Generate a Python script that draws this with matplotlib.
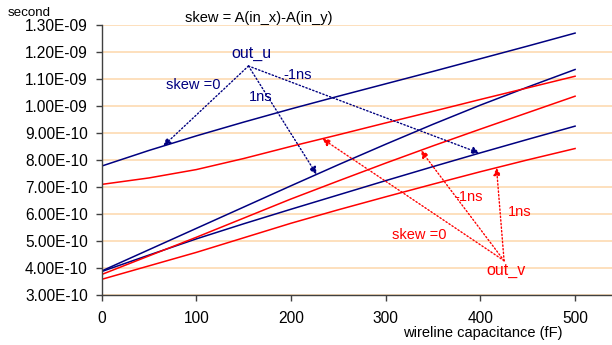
import numpy as np
import matplotlib
matplotlib.use("Agg")
import matplotlib.pyplot as plt
from matplotlib.ticker import FuncFormatter, MultipleLocator

plt.rcParams['font.family'] = ['Liberation Sans', 'DejaVu Sans']

# wireline capacitance (fF)
cap = [0, 50, 100, 150, 200, 250, 300, 350, 400, 450, 500]

# delay (s), out_u (navy) and out_v (red) for the three skew values
u_skew0 = [7.77e-10, 8.35e-10, 8.89e-10, 9.40e-10, 9.89e-10, 1.036e-09, 1.082e-09, 1.128e-09, 1.175e-09, 1.222e-09, 1.270e-09]
u_p1ns = [3.88e-10, 4.67e-10, 5.46e-10, 6.25e-10, 7.04e-10, 7.82e-10, 8.58e-10, 9.32e-10, 1.003e-09, 1.070e-09, 1.135e-09]
u_m1ns = [3.86e-10, 4.47e-10, 5.07e-10, 5.63e-10, 6.17e-10, 6.70e-10, 7.23e-10, 7.75e-10, 8.26e-10, 8.76e-10, 9.25e-10]
v_skew0 = [7.09e-10, 7.33e-10, 7.64e-10, 8.05e-10, 8.50e-10, 8.93e-10, 9.37e-10, 9.80e-10, 1.024e-09, 1.067e-09, 1.110e-09]
v_m1ns = [3.75e-10, 4.44e-10, 5.13e-10, 5.84e-10, 6.55e-10, 7.22e-10, 7.88e-10, 8.52e-10, 9.14e-10, 9.75e-10, 1.036e-09]
v_p1ns = [3.57e-10, 4.07e-10, 4.57e-10, 5.11e-10, 5.65e-10, 6.15e-10, 6.63e-10, 7.10e-10, 7.56e-10, 8.00e-10, 8.42e-10]

NAVY = "#000080"
RED = "#FF0000"
GRID = "#FDDDB8"


def arrow(ax, xs, ys, x_tip, start, color):
    "dotted arrow from a label point to a curve at x_tip"
    y_tip = np.interp(x_tip, xs, ys)
    ax.annotate("", xy=(x_tip, y_tip), xytext=start,
                arrowprops=dict(arrowstyle="-|>", color=color, lw=1.0,
                                linestyle=(0, (1, 1.6)), mutation_scale=11,
                                shrinkA=0, shrinkB=0))


fig = plt.figure(figsize=(6.12, 3.45), dpi=100)
ax = fig.add_axes([0.1662, 0.1458, 0.8338, 0.7817])

for ys in (u_skew0, u_p1ns, u_m1ns):
    ax.plot(cap, ys, color=NAVY, lw=1.1)
for ys in (v_skew0, v_m1ns, v_p1ns):
    ax.plot(cap, ys, color=RED, lw=1.1)

ax.set_xlim(0, 539)
ax.set_ylim(3e-10, 1.3e-9)
ax.xaxis.set_major_locator(MultipleLocator(100))
ax.yaxis.set_major_locator(MultipleLocator(1e-10))
ax.yaxis.set_major_formatter(FuncFormatter(lambda v, p: f"{v:.2E}"))
ax.yaxis.get_offset_text().set_visible(False)
ax.grid(axis="y", color=GRID, lw=1.3)
ax.set_axisbelow(True)
for s in ("top", "right"):
    ax.spines[s].set_visible(False)
for s in ("left", "bottom"):
    ax.spines[s].set_color("#404040")
    ax.spines[s].set_linewidth(1.0)
ax.tick_params(axis="y", direction="out", length=4, width=1, color="#404040",
               pad=6, labelsize=11.2)
ax.tick_params(axis="x", direction="out", length=4, width=1, color="#404040",
               pad=8, labelsize=11.2)

ax.set_xlabel("wireline capacitance (fF)", fontsize=10.5, va="center")
ax.xaxis.set_label_coords(0.746, -0.142)
fig.text(0.013, 0.955, "second", fontsize=9.6, ha="left", va="baseline")
ax.text(166, 1.326e-9, "skew = A(in_x)-A(in_y)", fontsize=10.5,
        ha="center", va="center", clip_on=False)

# out_u annotations
u_src = (155, 1.148e-9)
ax.text(158, 1.196e-9, "out_u", color=NAVY, fontsize=11.5, ha="center", va="center")
arrow(ax, cap, u_skew0, 65, u_src, NAVY)
arrow(ax, cap, u_p1ns, 227, u_src, NAVY)
arrow(ax, cap, u_m1ns, 399, u_src, NAVY)
ax.text(97, 1.077e-9, "skew =0", color=NAVY, fontsize=10.5, ha="center", va="center")
ax.text(207, 1.114e-9, "-1ns", color=NAVY, fontsize=10.5, ha="center", va="center")
ax.text(168, 1.032e-9, "1ns", color=NAVY, fontsize=10.5, ha="center", va="center")

# out_v annotations
v_src = (425, 4.26e-10)
ax.text(427, 3.89e-10, "out_v", color=RED, fontsize=11.5, ha="center", va="center")
arrow(ax, cap, v_skew0, 233, v_src, RED)
arrow(ax, cap, v_m1ns, 337, v_src, RED)
arrow(ax, cap, v_p1ns, 417, v_src, RED)
ax.text(335, 5.23e-10, "skew =0", color=RED, fontsize=10.5, ha="center", va="center")
ax.text(388, 6.61e-10, "-1ns", color=RED, fontsize=10.5, ha="center", va="center")
ax.text(442, 6.05e-10, "1ns", color=RED, fontsize=10.5, ha="center", va="center")

fig.savefig("out.png", dpi=100)
